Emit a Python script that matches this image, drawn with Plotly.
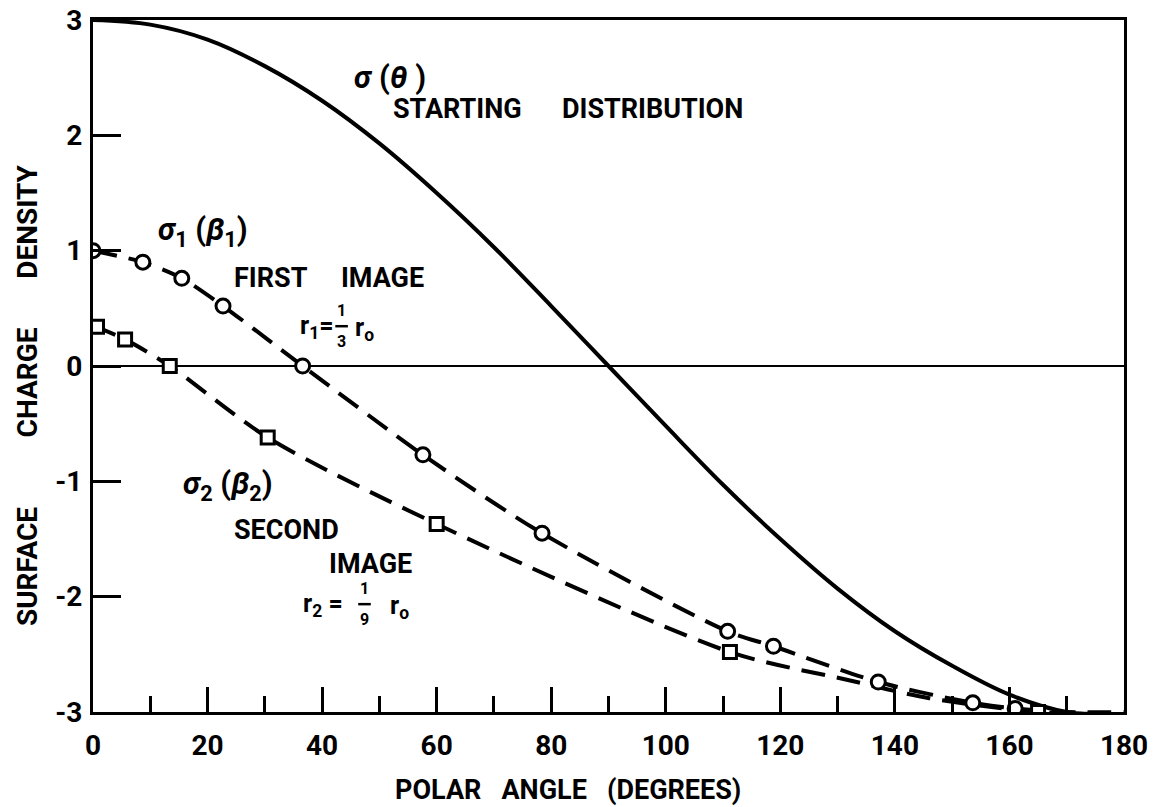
import plotly.graph_objects as go

# ---- data ----
theta0 = [0, 10, 20, 30, 40, 50, 60, 70, 80, 90, 100, 110, 120, 130, 140, 150, 160, 170, 180]
sigma0 = [3.0, 2.96, 2.83, 2.6, 2.3, 1.93, 1.5, 1.03, 0.52, 0.0, -0.52, -1.03, -1.5, -1.93, -2.3, -2.6, -2.85, -3.0, -3.02]

theta1_pts = [0, 8.7, 15.5, 22.7, 36.6, 57.6, 78.4, 110.8, 118.8, 137.1, 153.6, 161]
sigma1_pts = [1.0, 0.9, 0.76, 0.52, 0.0, -0.77, -1.45, -2.30, -2.43, -2.74, -2.92, -2.97]
theta1_line = [0, 8.7, 15.5, 22.7, 36.6, 57.6, 78.4, 110.8, 118.8, 137.1, 153.6, 161, 170, 180]
sigma1_line = [1.0, 0.9, 0.76, 0.52, 0.0, -0.77, -1.45, -2.30, -2.43, -2.74, -2.92, -2.97, -3.0, -3.0]

theta2_pts = [0.7, 5.6, 13.4, 30.5, 60, 111.2, 165]
sigma2_pts = [0.34, 0.23, 0.0, -0.62, -1.37, -2.48, -3.0]
theta2_line = [0, 5.6, 13.4, 30.5, 60, 111.2, 131.6, 146, 165, 180]
sigma2_line = [0.35, 0.23, 0.0, -0.62, -1.37, -2.48, -2.72, -2.88, -3.0, -3.02]

x_ticks = [0, 20, 40, 60, 80, 100, 120, 140, 160, 180]
x_ticktext = ["0", "20", "40", "60", "80", "100", "120", "140", "160", "180"]
y_ticks = [-3, -2, -1, 0, 1, 2, 3]
y_ticktext = ["-3", "-2", "-1", "0", "1", "2", "3"]

FONT = "Roboto, sans-serif"

fig = go.Figure()
fig.add_trace(go.Scatter(x=theta0, y=sigma0, mode="lines", line=dict(color="black", width=4, shape="spline"),
                         showlegend=False, hoverinfo="skip"))
fig.add_trace(go.Scatter(x=theta1_line, y=sigma1_line, mode="lines",
                         line=dict(color="black", width=4, dash="24px,12px", shape="spline", smoothing=0.8),
                         showlegend=False, hoverinfo="skip"))
fig.add_trace(go.Scatter(x=theta2_line, y=sigma2_line, mode="lines",
                         line=dict(color="black", width=4, dash="24px,12px", shape="spline", smoothing=0.8),
                         showlegend=False, hoverinfo="skip"))
fig.add_trace(go.Scatter(x=theta1_pts, y=sigma1_pts, mode="markers",
                         marker=dict(symbol="circle", size=14, color="white", line=dict(color="black", width=3)),
                         showlegend=False))
fig.add_trace(go.Scatter(x=theta2_pts, y=sigma2_pts, mode="markers",
                         marker=dict(symbol="square", size=13, color="white", line=dict(color="black", width=3)),
                         showlegend=False))

tf = dict(family=FONT, size=28, color="black", weight="bold")
fig.update_xaxes(range=[0, 180], tickvals=x_ticks, ticktext=x_ticktext, ticks="inside", ticklen=25, tickwidth=2.5,
                 tickcolor="black", showline=True, linewidth=3, linecolor="black", mirror=True, showgrid=False,
                 zeroline=False, tickfont=tf, ticklabelstandoff=6, automargin=False, ticklabeloverflow="allow",
                 minor=dict(dtick=10, tick0=0, ticks="inside", ticklen=16, tickwidth=2.5, tickcolor="black",
                            showgrid=False))
fig.update_yaxes(range=[-3, 3], tickvals=y_ticks, ticktext=y_ticktext, ticks="inside", ticklen=28, tickwidth=2.5,
                 tickcolor="black", showline=True, linewidth=3, linecolor="black", mirror=True, showgrid=False,
                 zeroline=True, zerolinecolor="black", zerolinewidth=2, tickfont=tf, ticklabelstandoff=2,
                 automargin=False, ticklabeloverflow="allow")

ann_font = dict(family=FONT, size=27, color="black")
r_font = dict(family=FONT, size=25, color="black")
sym_font = dict(family=FONT, size=31, color="black")
frac_font = dict(family=FONT, size=16, color="black")

def A(x, y, text, font, xanchor="left", **kw):
    fig.add_annotation(x=x, y=y, xref="x", yref="y", text=text, showarrow=False, font=font,
                       xanchor=xanchor, yanchor="middle", **kw)

NB = "\u00a0"
A(45.2, 2.50, "<b><i>σ</i>" + NB + "(<i>θ</i>" + NB + ")</b>", sym_font)
A(52.0, 2.23, "<b>STARTING" + NB * 6 + "DISTRIBUTION</b>", ann_font)
A(11.0, 1.17, "<b><i>σ</i><sub>1</sub> (<i>β</i><sub>1</sub>)</b>", sym_font)
A(24.3, 0.76, "<b>FIRST" + NB * 5 + "IMAGE</b>", ann_font)
A(35.8, 0.34, "<b>r<sub>1</sub>=</b>", r_font)
A(43.4, 0.48, "<b>1</b>", frac_font, xanchor="center")
A(43.4, 0.21, "<b>3</b>", frac_font, xanchor="center")
A(45.4, 0.32, "<b>r<sub>o</sub></b>", r_font)
A(15.3, -1.04, "<b><i>σ</i><sub>2</sub> (<i>β</i><sub>2</sub>)</b>", sym_font)
A(24.3, -1.42, "<b>SECOND</b>", ann_font)
A(40.8, -1.72, "<b>IMAGE</b>", ann_font)
A(36.3, -2.07, "<b>r<sub>2</sub> =</b>", r_font)
A(47.4, -1.93, "<b>1</b>", frac_font, xanchor="center")
A(47.4, -2.20, "<b>9</b>", frac_font, xanchor="center")
A(51.5, -2.09, "<b>r<sub>o</sub></b>", r_font)

fig.add_shape(type="line", xref="x", yref="y", x0=42.3, x1=44.5, y0=0.345, y1=0.345, line=dict(color="black", width=2.5))
fig.add_shape(type="line", xref="x", yref="y", x0=46.3, x1=48.5, y0=-2.065, y1=-2.065, line=dict(color="black", width=2.5))

fig.add_annotation(x=-0.064, y=0.458, xref="paper", yref="paper", textangle=-90, showarrow=False,
                   text="<b>SURFACE" + NB * 10 + "CHARGE" + NB * 7 + "DENSITY</b>",
                   font=dict(family=FONT, size=28, color="black"),
                   xanchor="center", yanchor="middle")
fig.add_annotation(x=0.461, y=-0.113, xref="paper", yref="paper", showarrow=False,
                   text="<b>POLAR" + NB * 3 + "ANGLE" + NB * 3 + "(DEGREES)</b>", font=ann_font,
                   xanchor="center", yanchor="middle")

fig.update_layout(width=1156, height=799, margin=dict(l=85, r=40, t=12, b=95),
                  paper_bgcolor="white", plot_bgcolor="white", showlegend=False)

fig.write_html("out.html")
